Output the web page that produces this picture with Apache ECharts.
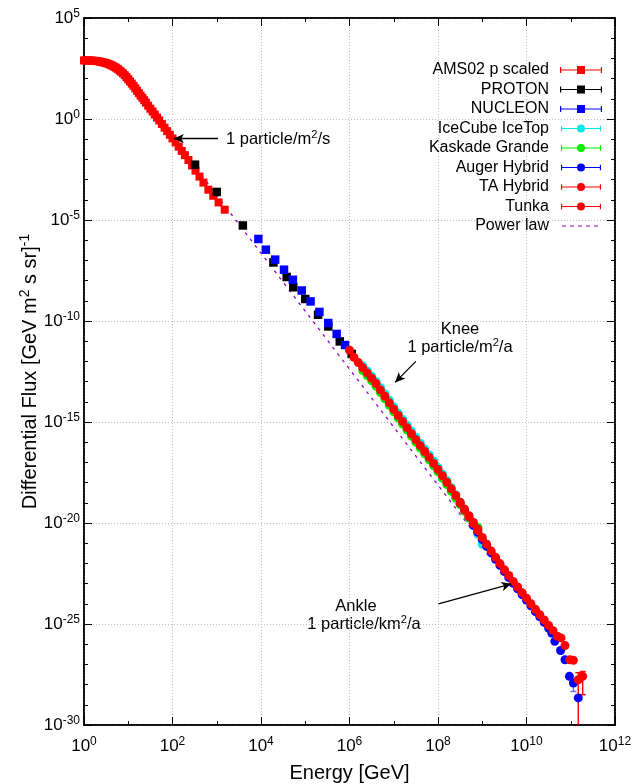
<!DOCTYPE html>
<html><head><meta charset="utf-8">
<script src="https://cdn.jsdelivr.net/npm/echarts@6/dist/echarts.min.js"></script>
<style>html,body{margin:0;padding:0;background:#fff}#c{width:632px;height:784px}</style>
</head><body><div id="c"></div>
<script>
// all values are log10 exponents
const xTickExps = [0, 2, 4, 6, 8, 10, 12];
const yTickExps = [-30, -25, -20, -15, -10, -5, 0, 5];

const amsLogE = [0.00,0.04,0.08,0.12,0.16,0.20,0.24,0.28,0.32,0.36,0.40,0.44,0.48,0.52,0.56,0.60,0.64,0.68,0.72,0.76,0.80,0.84,0.88,0.92,0.96,1.00,1.04,1.08,1.12,1.16,1.20,1.24,1.28,1.32,1.36,1.40,1.45,1.50,1.55,1.60,1.65,1.70,1.76,1.82,1.88,1.94,2.00,2.07,2.14,2.21,2.28,2.36,2.44,2.52,2.61,2.70,2.81,2.92,3.04,3.18];
const amsLogF = [2.90,2.90,2.90,2.90,2.89,2.89,2.88,2.87,2.86,2.84,2.82,2.80,2.78,2.75,2.72,2.68,2.64,2.59,2.54,2.48,2.41,2.34,2.26,2.17,2.07,1.97,1.86,1.75,1.64,1.52,1.40,1.28,1.16,1.05,0.93,0.81,0.66,0.51,0.37,0.22,0.07,-0.07,-0.25,-0.43,-0.60,-0.78,-0.96,-1.16,-1.37,-1.58,-1.79,-2.03,-2.30,-2.56,-2.85,-3.15,-3.50,-3.80,-4.13,-4.49];

const protonLogE = [2.51,3.00,3.59,4.28,4.58,4.73,5.00,5.29,5.52,5.78,6.05];
const protonLogF = [-2.26,-3.61,-5.27,-7.10,-7.82,-8.33,-8.91,-9.69,-10.27,-11.01,-11.63];

const nucleonLogE = [3.94,4.11,4.32,4.52,4.72,4.92,5.12,5.32,5.52,5.71,5.90];
const nucleonLogF = [-5.94,-6.47,-6.96,-7.46,-7.96,-8.49,-9.03,-9.55,-10.10,-10.64,-11.19];

const iceLogE = [6.3,6.4,6.5,6.6,6.7,6.8,6.9,7.0,7.1,7.2,7.3,7.4,7.5,7.6,7.7,7.8,7.9,8.0,8.1,8.2,8.3,8.4,8.5,8.6,8.7,8.8,8.9,9.0];
const iceLogF = [-12.22,-12.47,-12.73,-13.00,-13.30,-13.60,-13.92,-14.25,-14.56,-14.86,-15.16,-15.46,-15.76,-16.05,-16.34,-16.63,-16.93,-17.25,-17.57,-17.90,-18.25,-18.60,-18.98,-19.35,-19.72,-20.10,-20.55,-21.05];

const kaskLogE = [6.3,6.4,6.5,6.6,6.7,6.8,6.9,7.0,7.1,7.2,7.3,7.4,7.5,7.6,7.7,7.8,7.9,8.0,8.1,8.2,8.3,8.4,8.5,8.6,8.7,8.8,8.9];
const kaskLogF = [-12.46,-12.70,-12.96,-13.23,-13.54,-13.85,-14.17,-14.49,-14.80,-15.10,-15.40,-15.70,-16.00,-16.29,-16.58,-16.87,-17.17,-17.47,-17.78,-18.10,-18.43,-18.76,-19.09,-19.42,-19.75,-20.00,-20.22];

const augerLogE = [8.8,8.9,9.0,9.1,9.2,9.3,9.4,9.5,9.6,9.7,9.8,9.9,10.0,10.1,10.2,10.3,10.4,10.5,10.57,10.64,10.77,10.87,10.97,11.06,11.17];
const augerLogF = [-20.12,-20.46,-20.82,-21.16,-21.48,-21.80,-22.10,-22.40,-22.70,-22.98,-23.26,-23.54,-23.82,-24.10,-24.38,-24.64,-24.92,-25.20,-25.45,-25.86,-26.31,-26.77,-27.59,-27.92,-28.66];
const augerErrLogE = [11.06];
const augerErrLo = [-28.34];
const augerErrHi = [-27.70];

const taLogE = [8.5,8.6,8.7,8.8,8.9,9.0,9.1,9.2,9.3,9.4,9.5,9.6,9.7,9.8,9.9,10.0,10.1,10.2,10.3,10.4,10.5,10.6,10.7,10.78,10.87,10.98,11.06,11.17,11.27];
const taLogF = [-19.02,-19.36,-19.70,-20.04,-20.38,-20.72,-21.05,-21.38,-21.70,-22.01,-22.31,-22.60,-22.89,-23.17,-23.45,-23.72,-24.00,-24.27,-24.54,-24.80,-25.07,-25.33,-25.61,-25.69,-26.07,-26.77,-26.80,-27.76,-27.59];
const taErrLogE = [11.17, 11.27];
const taErrLo = [-31.0, -28.50];
const taErrHi = [-27.41, -27.35];

const tunkaLogE = [6.0,6.1,6.2,6.3,6.4,6.5,6.6,6.7,6.8,6.9,7.0,7.1,7.2,7.3,7.4,7.5,7.6,7.7,7.8,7.9,8.0,8.1,8.2,8.3,8.4,8.5,8.6,8.7,8.8,8.9];
const tunkaLogF = [-11.45,-11.80,-12.06,-12.32,-12.57,-12.83,-13.10,-13.42,-13.73,-14.05,-14.37,-14.68,-14.98,-15.28,-15.58,-15.88,-16.17,-16.46,-16.75,-17.05,-17.35,-17.66,-17.98,-18.31,-18.64,-18.97,-19.31,-19.64,-19.97,-20.30];

const powerLawLogE = [2.0, 10.5];
const powerLawLogF = [-0.90, -25.30];

// annotation arrows (tail -> head), in log10 data coordinates
const arrowTailLogE = [3.03, 7.50, 8.01];
const arrowTailLogF = [-0.97, -12.00, -24.00];
const arrowHeadLogE = [2.03, 7.03, 9.66];
const arrowHeadLogF = [-0.97, -13.04, -23.01];

const legendNames = ['AMS02 p scaled','PROTON','NUCLEON','IceCube IceTop','Kaskade Grande','Auger Hybrid','TA Hybrid','Tunka','Power law'];

const FONT = "'Liberation Sans', Arial, Helvetica, sans-serif";
const pairs = (a, b) => a.map((v, i) => [v, b[i]]);
const triples = (a, b, c) => a.map((v, i) => [v, b[i], c[i]]);

const RED = '#ff0000', BLUE = '#0000ff', CYAN = '#00e8e8', GREEN = '#00ee00', BLACK = '#000000', PURPLE = '#9400d3';

const dot = 'M0,0h0.01v0.01h-0.01Z M41.99,7.99h0.01v0.01h-0.01Z ';
const barPath = 'M0,3.4H42V4.6H0Z M0,1H1.2V7H0Z M40.8,1H42V7H40.8Z ';
const sqIcon = 'path://' + dot + barPath + 'M17,0H25V8H17Z';
const ciIcon = 'path://' + dot + barPath + 'M25.2,4A4.2,4.2 0 1 1 16.8,4A4.2,4.2 0 1 1 25.2,4Z';
const dashIcon = 'path://' + dot + 'M2,3.4H6V4.6H2Z M10,3.4H14V4.6H10Z M18,3.4H22V4.6H18Z M26,3.4H30V4.6H26Z M34,3.4H38V4.6H34Z';

const supLabel = v => '{b|10}{s|' + v + '}';
const richTick = {
  b: { fontSize: 17, lineHeight: 17, fontFamily: FONT, color: '#000' },
  s: { fontSize: 12, lineHeight: 12, padding: [0, 0, 9, 0], fontFamily: FONT, color: '#000' }
};

function errRenderer(color) {
  return function (params, api) {
    const x = api.value(0), lo = api.value(1), hi = api.value(2);
    const p1 = api.coord([x, lo]), p2 = api.coord([x, hi]);
    const c = 3;
    const st = { stroke: color, lineWidth: 1.4 };
    return { type: 'group', children: [
      { type: 'line', shape: { x1: p1[0], y1: p1[1], x2: p2[0], y2: p2[1] }, style: st },
      { type: 'line', shape: { x1: p1[0] - c, y1: p1[1], x2: p1[0] + c, y2: p1[1] }, style: st },
      { type: 'line', shape: { x1: p2[0] - c, y1: p2[1], x2: p2[0] + c, y2: p2[1] }, style: st }
    ]};
  };
}

function scatter(name, e, f, symbol, size, color) {
  return { name, type: 'scatter', data: pairs(e, f), symbol, symbolSize: size,
    itemStyle: { color, opacity: 1 }, z: 3, silent: true, clip: true };
}

const chart = echarts.init(document.getElementById('c'), null, { renderer: 'canvas' });

const axisCommon = {
  type: 'value',
  axisLine: { show: true, onZero: false, lineStyle: { color: '#000', width: 1.5 } },
  axisTick: { show: true, inside: true, length: 8, lineStyle: { color: '#000', width: 1 } },
  minorTick: { show: true, length: 4, lineStyle: { color: '#000', width: 1 } },
};

const option = {
  animation: false,
  backgroundColor: '#fff',
  textStyle: { fontFamily: FONT },
  grid: { left: 84, right: 17, top: 18, bottom: 59, show: true, borderColor: '#000', borderWidth: 1.5, outerBoundsMode: 'none', containLabel: false },
  xAxis: [
    Object.assign({}, axisCommon, {
      min: xTickExps[0], max: xTickExps[xTickExps.length - 1], interval: 2, position: 'bottom',
      minorTick: Object.assign({}, axisCommon.minorTick, { splitNumber: 2 }),
      splitLine: { show: true, lineStyle: { color: '#bdbdbd', type: [1, 2], width: 1 } },
      axisLabel: { margin: 13, formatter: supLabel, rich: richTick },
      name: '{n|Energy [GeV]}', nameLocation: 'middle', nameGap: 38, nameMoveOverlap: false,
      nameTextStyle: { rich: { n: { fontSize: 20, fontFamily: FONT, color: '#000' } } }
    }),
    Object.assign({}, axisCommon, {
      min: xTickExps[0], max: xTickExps[xTickExps.length - 1], interval: 2, position: 'top',
      minorTick: Object.assign({}, axisCommon.minorTick, { splitNumber: 2 }),
      splitLine: { show: false }, axisLabel: { show: false }
    })
  ],
  yAxis: [
    Object.assign({}, axisCommon, {
      min: yTickExps[0], max: yTickExps[yTickExps.length - 1], interval: 5, position: 'left',
      minorTick: Object.assign({}, axisCommon.minorTick, { splitNumber: 5 }),
      splitLine: { show: true, lineStyle: { color: '#bdbdbd', type: [1, 2], width: 1 } },
      axisLabel: { margin: 4, formatter: supLabel, rich: richTick },
      name: '{n|Differential Flux [GeV m}{s|2}{n| s sr]}{s|-1}', nameLocation: 'middle', nameGap: 44, nameMoveOverlap: false,
      nameTextStyle: { rich: {
        n: { fontSize: 20, lineHeight: 20, fontFamily: FONT, color: '#000' },
        s: { fontSize: 14, lineHeight: 14, padding: [0, 0, 10, 0], fontFamily: FONT, color: '#000' }
      } }
    }),
    Object.assign({}, axisCommon, {
      min: yTickExps[0], max: yTickExps[yTickExps.length - 1], interval: 5, position: 'right',
      minorTick: Object.assign({}, axisCommon.minorTick, { splitNumber: 5 }),
      splitLine: { show: false }, axisLabel: { show: false }
    })
  ],
  legend: {
    orient: 'vertical', right: 25, top: 57, align: 'right', selectedMode: false,
    itemWidth: 42, itemHeight: 8, itemGap: 3.5,
    textStyle: { fontSize: 16, lineHeight: 16, fontFamily: FONT, color: '#000', padding: [0, 6, 0, 0] },
    data: [
      { name: legendNames[0], icon: sqIcon, itemStyle: { color: RED } },
      { name: legendNames[1], icon: sqIcon, itemStyle: { color: BLACK } },
      { name: legendNames[2], icon: sqIcon, itemStyle: { color: BLUE } },
      { name: legendNames[3], icon: ciIcon, itemStyle: { color: CYAN } },
      { name: legendNames[4], icon: ciIcon, itemStyle: { color: GREEN } },
      { name: legendNames[5], icon: ciIcon, itemStyle: { color: BLUE } },
      { name: legendNames[6], icon: ciIcon, itemStyle: { color: RED } },
      { name: legendNames[7], icon: ciIcon, itemStyle: { color: RED } },
      { name: legendNames[8], icon: dashIcon, itemStyle: { color: PURPLE } }
    ]
  },
  series: [
    { name: legendNames[8], type: 'line', data: pairs(powerLawLogE, powerLawLogF), showSymbol: false, symbol: 'none',
      lineStyle: { color: PURPLE, width: 1.3, type: [3, 5] }, itemStyle: { color: PURPLE }, z: 1, silent: true,
      markLine: {
        silent: true, symbol: ['none', 'arrow'], symbolSize: [7, 10], animation: false,
        lineStyle: { color: '#000', width: 1.3, type: 'solid' }, label: { show: false },
        data: arrowTailLogE.map((v, i) => [{ coord: [v, arrowTailLogF[i]] }, { coord: [arrowHeadLogE[i], arrowHeadLogF[i]] }])
      } },
    scatter(legendNames[0], amsLogE, amsLogF, 'rect', 8, RED),
    scatter(legendNames[1], protonLogE, protonLogF, 'rect', 8.5, BLACK),
    scatter(legendNames[2], nucleonLogE, nucleonLogF, 'rect', 8.5, BLUE),
    scatter(legendNames[3], iceLogE, iceLogF, 'circle', 9, CYAN),
    scatter(legendNames[4], kaskLogE, kaskLogF, 'circle', 9, GREEN),
    { name: 'auger-err', type: 'custom', data: triples(augerErrLogE, augerErrLo, augerErrHi), renderItem: errRenderer('#6b6bff'), clip: true, z: 3, silent: true },
    scatter(legendNames[5], augerLogE, augerLogF, 'circle', 9, BLUE),
    { name: 'ta-err', type: 'custom', data: triples(taErrLogE, taErrLo, taErrHi), renderItem: errRenderer(RED), clip: true, z: 3, silent: true },
    scatter(legendNames[6], taLogE, taLogF, 'circle', 9, RED),
    scatter(legendNames[7], tunkaLogE, tunkaLogF, 'circle', 9, RED)
  ],
  graphic: [
    { type: 'text', x: 226, y: 139, silent: true, style: { text: '{n|1 particle/m}{s|2}{n|/s}', verticalAlign: 'middle', align: 'left',
      rich: { n: { fontSize: 16.5, lineHeight: 17, fontFamily: FONT, fill: '#000' }, s: { fontSize: 11, lineHeight: 11, padding: [0,0,8,0], fontFamily: FONT, fill: '#000' } } } },
    { type: 'text', x: 460, y: 329, silent: true, style: { text: 'Knee', font: '16.5px ' + FONT, fill: '#000', align: 'center', verticalAlign: 'middle' } },
    { type: 'text', x: 460, y: 347, silent: true, style: { text: '{n|1 particle/m}{s|2}{n|/a}', verticalAlign: 'middle', align: 'center',
      rich: { n: { fontSize: 16.5, lineHeight: 17, fontFamily: FONT, fill: '#000' }, s: { fontSize: 11, lineHeight: 11, padding: [0,0,8,0], fontFamily: FONT, fill: '#000' } } } },
    { type: 'text', x: 356, y: 606, silent: true, style: { text: 'Ankle', font: '16.5px ' + FONT, fill: '#000', align: 'center', verticalAlign: 'middle' } },
    { type: 'text', x: 364, y: 624, silent: true, style: { text: '{n|1 particle/km}{s|2}{n|/a}', verticalAlign: 'middle', align: 'center',
      rich: { n: { fontSize: 16.5, lineHeight: 17, fontFamily: FONT, fill: '#000' }, s: { fontSize: 11, lineHeight: 11, padding: [0,0,8,0], fontFamily: FONT, fill: '#000' } } } }
  ]
};
chart.setOption(option);
</script>
</body></html>
